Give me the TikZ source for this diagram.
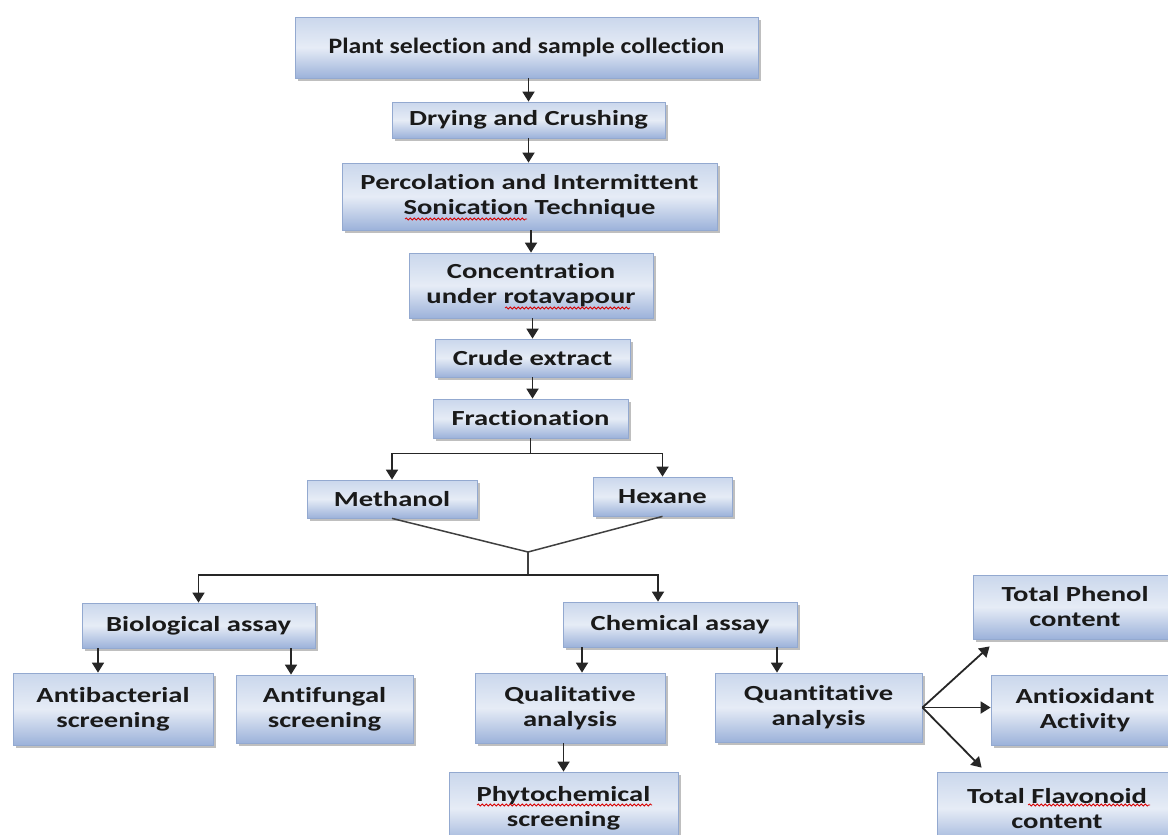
\documentclass[tikz,border=0pt]{standalone}
\usepackage{fontspec}
\newfontfamily\boxfont[FakeStretch=1.33,Ligatures=NoCommon]{Carlito}
\newfontfamily\ttlfont[FakeStretch=1.17,Ligatures=NoCommon]{Carlito}
\usetikzlibrary{arrows.meta,shadows,decorations.pathmorphing,calc}
\definecolor{boxtop}{HTML}{CAD7EC}
\definecolor{boxmid}{HTML}{E6ECF6}
\definecolor{boxbot}{HTML}{9CB2DA}
\definecolor{boxedge}{HTML}{93A9D0}
\definecolor{txt}{HTML}{1A1A1A}
\tikzset{
  box/.style={draw=boxedge, line width=0.8pt, top color=boxtop, bottom color=boxbot, middle color=boxmid,
    drop shadow={shadow xshift=2.5pt, shadow yshift=-2.5pt, fill=black!50, opacity=0.5},
    text=txt, align=center, inner sep=0pt,
    font=\boxfont\bfseries\fontsize{21.5}{25}\selectfont},
  bx/.style 2 args={box, minimum width=#1pt, minimum height=#2pt},
  arr/.style={-{Triangle[width=12pt,length=10pt]}, line width=1.8pt, draw=black!85},
  conn/.style={line width=1.5pt, draw=black!75},
  squiggle/.style={draw=red!85!black, line width=0.8pt, decorate, decoration={snake, amplitude=1pt, segment length=4pt}}
}
\begin{document}
\begin{tikzpicture}[x=1pt,y=-1pt]
\useasboundingbox (0,0) rectangle (1168,835);
\fill[white] (0,0) rectangle (1168,835);
\clip (0,0) rectangle (1168,835);

\node[bx={463}{61}, font=\ttlfont\bfseries\fontsize{22}{26}\selectfont] (plant) at (526.5,47.5) {Plant selection and sample collection};
\node[bx={273}{36}] (dry) at (528.5,120) {Drying and Crushing};
\node[bx={375}{67}] (perc) at (529.5,196.5) {Percolation and Intermittent\\Sonication Technique};
\node[bx={244}{65}] (conc) at (531,285.5) {Concentration\\under rotavapour};
\node[bx={195}{38}] (crude) at (532.5,358) {Crude extract};
\node[bx={195}{39}] (frac) at (530.5,418.5) {Fractionation};
\node[bx={170}{38}] (meth) at (392,499) {Methanol};
\node[bx={139}{39}] (hex) at (662.5,496.5) {Hexane};
\node[bx={233}{45}] (bio) at (198.5,625.5) {Biological assay};
\node[bx={234}{45}] (chem) at (680,624.5) {Chemical assay};
\node[bx={200}{72}] (antib) at (113,709) {Antibacterial\\screening};
\node[bx={177}{68}] (antif) at (324.5,709) {Antifungal\\screening};
\node[bx={190}{70}] (qual) at (570,708) {Qualitative\\analysis};
\node[bx={207}{69}] (quant) at (818.5,707.5) {Quantitative\\analysis};
\node[bx={229}{73}] (phyto) at (563.5,808.5) {Phytochemical\\screening};
\node[bx={204}{64}] (phenol) at (1075,607) {Total Phenol\\content};
\node[bx={188}{70}] (antiox) at (1085,710) {Antioxidant\\Activity};
\node[bx={240}{73}] (flav) at (1057,808.5) {Total Flavonoid\\content};

% spell-check squiggles
\draw[squiggle] (405,219) -- (527,219);
\draw[squiggle] (505,308) -- (630,308);
\draw[squiggle] (477,805) -- (652,805);
\draw[squiggle] (1028,805) -- (1150,805);

% connectors
\draw[arr] (plant.south -| dry.north) -- (dry.north);
\draw[arr] (dry.south) -- (dry.south |- perc.north);
\draw[arr] (perc.south -| conc.north) -- (conc.north);
\draw[arr] (conc.south -| crude.north) -- (crude.north);
\draw[arr] (crude.south) -- (crude.south |- frac.north);
\draw[arr] (frac.south) -- ++(0,15) -| (meth.north);
\draw[arr] (frac.south) -- ++(0,15) -| (hex.north);

\coordinate (J) at (528,552);
\coordinate (K) at (528,575);
\draw[conn] (meth.south) -- (J) -- (hex.south);
\draw[conn] (J) -- (K);
\draw[arr] (K) -| (bio.north);
\draw[arr] (K) -| ([xshift=-22pt]chem.north);

\draw[arr] ([xshift=-15pt]antib.north |- bio.south) -- ([xshift=-15pt]antib.north);
\draw[arr] ([xshift=-33.5pt]antif.north |- bio.south) -- ([xshift=-33.5pt]antif.north);
\draw[arr] ([xshift=12pt]qual.north |- chem.south) -- ([xshift=12pt]qual.north);
\draw[arr] ([xshift=-41.5pt]quant.north |- chem.south) -- ([xshift=-41.5pt]quant.north);
\draw[arr] (qual.south -| phyto.north) -- (phyto.north);

\draw[arr] (quant.east) -- ([xshift=17pt,yshift=-7pt]phenol.south west);
\draw[arr] (quant.east) -- (quant.east -| antiox.west);
\draw[arr] (quant.east) -- ([xshift=45pt,yshift=4pt]flav.north west);
\end{tikzpicture}
\end{document}
